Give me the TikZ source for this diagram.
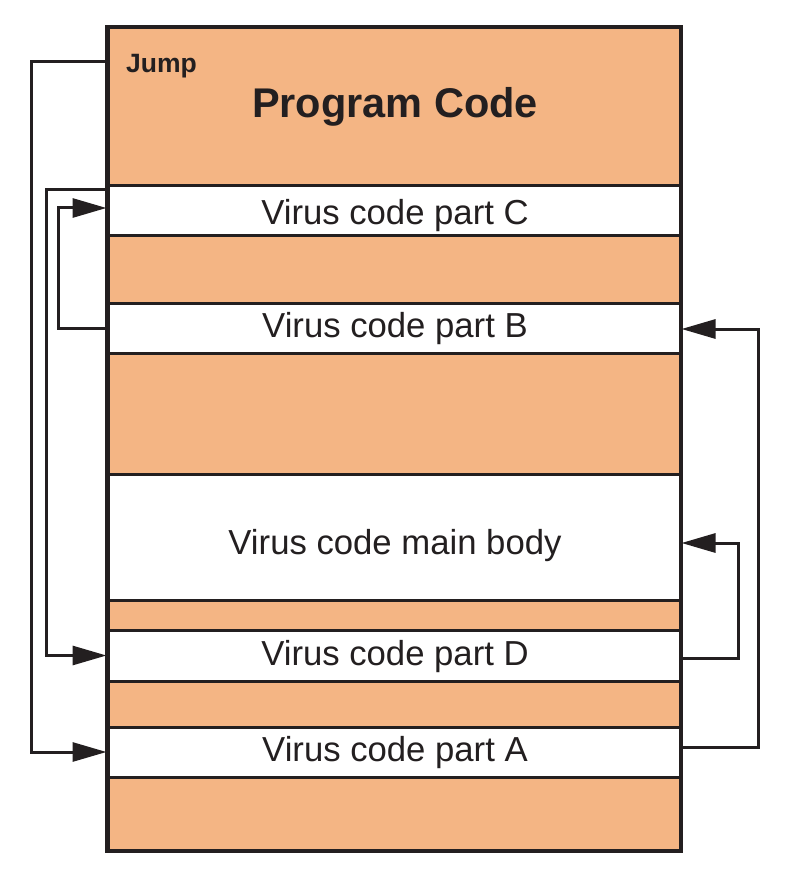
\documentclass[tikz,border=0pt]{standalone}
\usepackage{fontspec}
\setmainfont{Liberation Sans}
\usetikzlibrary{arrows.meta}
\definecolor{orng}{HTML}{F4B584}
\definecolor{ink}{HTML}{231F20}
\tikzset{
  band/.style={draw=ink, line width=3pt, minimum width=572pt, inner sep=0pt},
  obox/.style={band, fill=orng},
  wbox/.style={band, fill=white},
  lbl/.style={anchor=base, inner sep=0pt, text=ink, font=\fontsize{34.7}{40}\selectfont},
  arr/.style={draw=ink, line width=3pt, -{Triangle[length=34pt,width=19pt]}}
}
\begin{document}
\begin{tikzpicture}[x=1pt,y=-1pt]
\useasboundingbox (0,0) rectangle (792,874);
\node[obox, minimum height=158pt] (prog) at (394,107) {};
\node[wbox, minimum height=50pt] (C) at (394,211) {};
\node[obox, minimum height=67pt] (o1) at (394,269.5) {};
\node[wbox, minimum height=50pt] (B) at (394,328) {};
\node[obox, minimum height=121pt] (o2) at (394,413.5) {};
\node[wbox, minimum height=126pt] (M) at (394,537) {};
\node[obox, minimum height=30pt] (o3) at (394,615) {};
\node[wbox, minimum height=51pt] (D) at (394,655.5) {};
\node[obox, minimum height=46pt] (o4) at (394,704) {};
\node[wbox, minimum height=50pt] (A) at (394,752) {};
\node[obox, minimum height=73pt] (o5) at (394,813.5) {};
\draw[draw=ink, line width=3pt] (prog.north west) rectangle (o5.south east);
% texts
\node[lbl] (Ct) at (395,225) {Virus code part C};
\node[lbl] (Bt) at (395,337) {Virus code part B};
\node[lbl] (Mt) at (395,554) {Virus code main body};
\node[lbl] (Dt) at (395,665) {Virus code part D};
\node[lbl] (At) at (395,761) {Virus code part A};
\node[anchor=base, inner sep=0pt, text=ink, font=\bfseries\fontsize{41.5}{46}\selectfont] (title) at (395,118) {Program Code};
\node[anchor=base west, inner sep=0pt, text=ink, font=\bfseries\fontsize{26.5}{30}\selectfont] (jump) at (126,73) {Jump};
% connectors
\draw[arr] ([yshift=45pt]prog.west) -- ++(-75,0) |- (A.west);
\draw[arr] ([yshift=21pt]C.west) -- ++(-60,0) |- (D.west);
\draw[arr] (B.west) -- ++(-48,0) |- ([yshift=3pt]C.west);
\draw[arr] ([yshift=-3pt]D.east) -- ++(57,0) |- ([yshift=-6pt]M.east);
\draw[arr] ([yshift=5pt]A.east) -- ++(77,0) |- ([yshift=-1pt]B.east);
\end{tikzpicture}
\end{document}
